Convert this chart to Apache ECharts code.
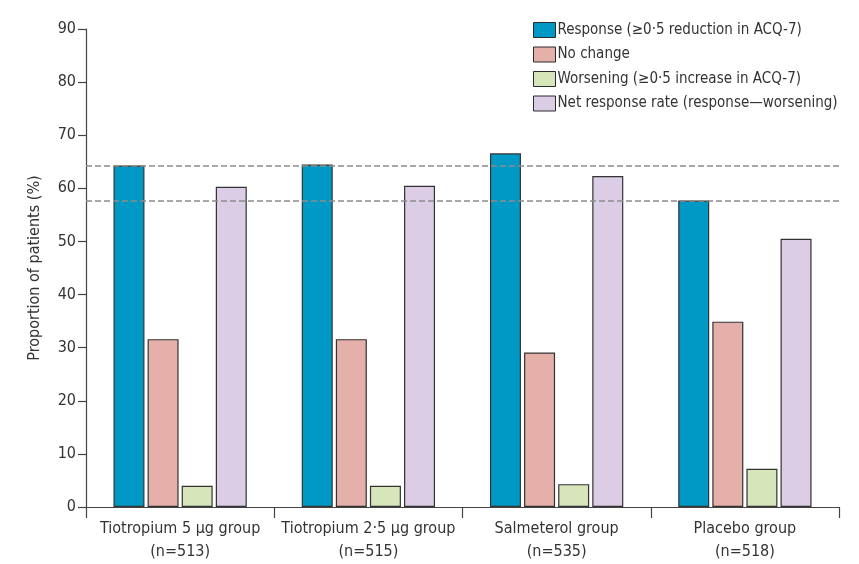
<!DOCTYPE html>
<html>
<head>
<meta charset="utf-8">
<script src="https://cdn.jsdelivr.net/npm/echarts@6/dist/echarts.min.js"></script>
<style>
  html, body { margin: 0; padding: 0; background: #fff; }
  #chart { width: 859px; height: 564px; }
</style>
</head>
<body>
<div id="chart"></div>
<script>
// Treatment groups (two-line labels)
const groups = [
  'Tiotropium 5 μg group\n(n=513)',
  'Tiotropium 2·5 μg group\n(n=515)',
  'Salmeterol group\n(n=535)',
  'Placebo group\n(n=518)'
];

// Proportion of patients (%) per outcome
const responseVals  = [64.3, 64.5, 66.6, 57.7];
const noChangeVals  = [31.6, 31.6, 29.1, 34.9];
const worseningVals = [4.0, 4.0, 4.3, 7.2];
const netVals       = [60.3, 60.5, 62.3, 50.5];

const seriesNames = [
  'Response (≥0·5 reduction in ACQ-7)',
  'No change',
  'Worsening (≥0·5 increase in ACQ-7)',
  'Net response rate (response—worsening)'
];
const seriesColors = ['#0099c6', '#e6b0aa', '#d6e6ba', '#dacde5'];

const yTicks = [0, 10, 20, 30, 40, 50, 60, 70, 80, 90];

// Reference levels: tiotropium 5 μg response and placebo response
const refLevels = [responseVals[0], responseVals[3]];

const FONT = "'Liberation Sans Narrow', 'DejaVu Sans Condensed', 'Open Sans', sans-serif";
const TEXT = '#333333';

const chart = echarts.init(document.getElementById('chart'));

const valueLists = [responseVals, noChangeVals, worseningVals, netVals];
const series = valueLists.map((vals, i) => {
  const s = {
    name: seriesNames[i],
    type: 'bar',
    data: vals,
    barWidth: 31,
    barGap: '10%',
    itemStyle: { color: seriesColors[i], borderColor: '#333333', borderWidth: 1.2 },
    emphasis: { disabled: true },
    z: 3
  };
  if (i === 0) {
    s.markLine = {
      silent: true,
      symbol: ['none', 'none'],
      label: { show: false },
      lineStyle: { color: '#8c8c8c', type: [6, 3], width: 1.5 },
      data: refLevels.map(v => ({ yAxis: v })),
      z: 5
    };
  }
  return s;
});

chart.setOption({
  animation: false,
  textStyle: { fontFamily: FONT },
  grid: { left: 86, right: 20, top: 29, bottom: 57, containLabel: false },
  legend: {
    orient: 'vertical',
    left: 528,
    top: 17,
    itemWidth: 22,
    itemHeight: 15,
    itemGap: 8.5,
    icon: 'rect',
    data: seriesNames,
    itemStyle: { borderWidth: 1, borderColor: '#2a2a2a' },
    textStyle: { fontFamily: FONT, fontSize: 15, color: TEXT, padding: [0, 0, 0, -3] },
    selectedMode: false
  },
  xAxis: {
    type: 'category',
    data: groups,
    axisLine: { lineStyle: { color: '#444', width: 1.2 } },
    axisTick: { show: true, interval: 0, length: 11, lineStyle: { color: '#444', width: 1.2 } },
    axisLabel: { interval: 0, fontFamily: FONT, fontSize: 16, color: TEXT, lineHeight: 23, margin: 10 }
  },
  yAxis: {
    type: 'value',
    min: yTicks[0],
    max: yTicks[yTicks.length - 1],
    interval: 10,
    name: 'Proportion of patients (%)',
    nameLocation: 'middle',
    nameGap: 43,
    nameTextStyle: { fontFamily: FONT, fontSize: 16, color: TEXT },
    splitLine: { show: false },
    axisLine: { show: true, lineStyle: { color: '#444', width: 1.2 } },
    axisTick: { show: true, length: 8, lineStyle: { color: '#444', width: 1.2 } },
    axisLabel: { fontFamily: FONT, fontSize: 16, color: TEXT, margin: 10 }
  },
  series: series
});
</script>
</body>
</html>
